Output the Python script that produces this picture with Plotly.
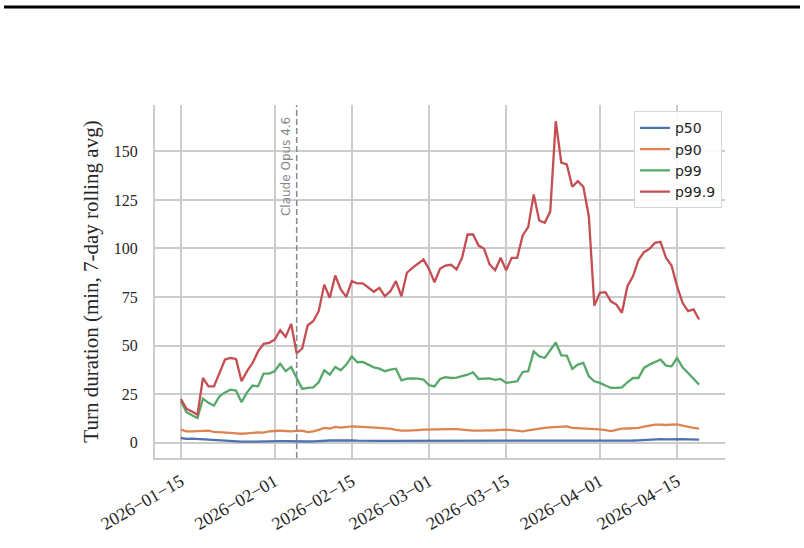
import pandas as pd
import plotly.graph_objects as go

start_date = "2026-01-15"
release_date = "2026-02-05"
release_label = "Claude Opus 4.6"

p50 = [2.4, 2.0, 2.1, 1.9, 1.7, 1.6, 1.4, 1.2, 1.1, 0.8, 0.5, 0.5, 0.5, 0.6, 0.6, 0.7, 0.7, 0.8, 0.8, 0.8,
       0.7, 0.7, 0.6, 0.6, 0.7, 0.9, 1.0, 1.1, 1.1, 1.2, 1.1, 1.1, 1.0, 0.9, 0.9, 0.9, 0.9, 0.9, 0.9, 0.8,
       0.8, 0.9, 0.9, 0.9, 0.9, 1.0, 1.0, 0.9, 0.9, 0.9, 0.8, 0.8, 0.8, 0.8, 0.8, 0.8, 0.8, 0.8, 0.9, 0.9,
       0.9, 0.9, 0.9, 0.9, 0.9, 0.9, 1.0, 1.0, 1.1, 1.1, 1.1, 1.1, 1.0, 1.0, 1.0, 1.0, 0.9, 0.9, 0.9, 0.9,
       1.0, 1.0, 1.1, 1.2, 1.4, 1.5, 1.7, 1.8, 1.7, 1.8, 1.9, 1.8, 1.7, 1.6, 1.6]

p90 = [6.7, 5.8, 5.8, 5.9, 6.0, 6.2, 5.6, 5.3, 5.3, 5.0, 4.8, 4.6, 4.8, 5.1, 5.3, 5.2, 5.8, 6.0, 6.2, 6.0,
       5.8, 6.1, 6.2, 5.4, 5.8, 6.6, 7.6, 7.3, 8.1, 7.8, 8.1, 8.4, 8.3, 8.2, 8.1, 7.9, 7.6, 7.4, 7.2, 6.6,
       6.2, 6.2, 6.2, 6.5, 6.7, 6.8, 7.0, 6.9, 7.2, 7.0, 7.0, 6.7, 6.4, 6.2, 6.2, 6.2, 6.2, 6.4, 6.6, 6.7,
       6.4, 6.0, 5.8, 6.3, 6.8, 7.2, 7.6, 7.9, 8.1, 8.3, 8.4, 7.6, 7.5, 7.4, 7.2, 7.0, 6.8, 6.4, 5.9, 6.6,
       7.2, 7.3, 7.5, 7.6, 8.2, 8.8, 9.3, 9.3, 9.1, 9.3, 9.4, 8.8, 8.1, 7.6, 7.2]

p99 = [21.3, 15.8, 14.1, 12.7, 22.7, 20.5, 19.1, 23.9, 25.9, 27.3, 26.8, 20.8, 25.9, 29.4, 29.0, 35.6, 35.6, 36.8, 40.7, 36.8,
       39.0, 33.0, 27.7, 28.2, 28.5, 31.1, 37.3, 35.0, 39.0, 37.3, 40.2, 44.5, 41.4, 41.6, 40.2, 38.8, 38.1, 36.8, 37.6, 38.1,
       32.1, 33.0, 33.1, 33.0, 32.5, 29.6, 29.0, 32.8, 33.7, 33.3, 33.5, 34.2, 35.0, 36.2, 32.8, 33.0, 33.1, 32.3, 32.8, 30.8,
       31.3, 31.6, 36.4, 36.8, 47.0, 44.5, 43.6, 47.9, 51.6, 45.0, 44.8, 38.0, 40.2, 41.1, 34.2, 31.6, 30.8, 29.4, 28.2, 28.2,
       28.5, 31.1, 33.3, 33.3, 38.5, 40.2, 41.6, 42.8, 39.7, 39.3, 43.6, 38.8, 35.9, 33.0, 29.9]

p999 = [22.5, 17.5, 16.0, 14.4, 33.3, 29.0, 29.0, 36.0, 42.8, 43.6, 43.1, 31.6, 36.8, 41.0, 47.0, 50.9, 51.4, 53.0, 57.9, 54.5,
        61.2, 46.0, 48.5, 60.5, 62.5, 67.7, 81.4, 74.6, 86.1, 78.9, 75.1, 83.2, 82.0, 82.0, 79.7, 77.7, 79.7, 75.4, 78.0, 83.2,
        75.4, 87.5, 90.0, 92.3, 94.3, 89.5, 82.6, 89.5, 91.2, 91.6, 89.2, 95.2, 107.2, 107.2, 101.5, 99.8, 91.8, 88.8, 95.2, 88.8,
        95.2, 95.2, 106.7, 111.0, 127.8, 114.4, 113.2, 119.0, 165.6, 144.2, 143.3, 131.8, 134.7, 131.8, 116.6, 70.6, 77.2, 77.5, 72.8, 71.1,
        66.9, 80.6, 85.7, 94.0, 98.1, 99.8, 102.9, 103.4, 95.2, 91.2, 80.6, 72.0, 67.7, 68.6, 63.4]

series_names = ["p50", "p90", "p99", "p99.9"]
series_values = [p50, p90, p99, p999]
series_colors = ["#4c72b0", "#dd8452", "#55a868", "#c44e52"]

tick_dates = ["2026-01-15", "2026-02-01", "2026-02-15", "2026-03-01", "2026-03-15", "2026-04-01", "2026-04-15"]
tick_text = [d.replace("-", "\u2212") for d in tick_dates]
y_ticks = [0, 25, 50, 75, 100, 125, 150]

dates = pd.date_range(start_date, periods=len(p50), freq="D")

fig = go.Figure()
for name, vals, col in zip(series_names, series_values, series_colors):
    fig.add_trace(go.Scatter(x=dates, y=vals, mode="lines", name=name,
                             line=dict(color=col, width=2.3)))

span = dates[-1] - dates[0]
pad = span * 0.05
x_range = [dates[0] - pad, dates[-1] + pad]

serif = "Liberation Serif, DejaVu Serif, serif"
grid = "#cccccc"

fig.update_layout(
    width=804, height=548,
    margin=dict(l=155, r=79, t=105, b=90),
    paper_bgcolor="white", plot_bgcolor="white",
    showlegend=True,
    legend=dict(x=0.9947, y=0.982, xanchor="right", yanchor="top",
                bgcolor="rgba(255,255,255,0.9)", bordercolor="#d6d6d6", borderwidth=1,
                font=dict(family="DejaVu Sans, sans-serif", size=14, color="#262626"),
                itemwidth=30, tracegroupgap=0),
    xaxis=dict(range=x_range, tickvals=list(pd.to_datetime(tick_dates)), ticktext=tick_text,
               tickangle=-30, tickfont=dict(family=serif, size=18, color="#262626"),
               showgrid=True, gridcolor=grid, gridwidth=1.5,
               showline=True, linecolor=grid, linewidth=2,
               ticks="outside", ticklen=4, tickcolor="rgba(0,0,0,0)",
               zeroline=False),
    yaxis=dict(range=[-7.9, 173.9], tickvals=y_ticks,
               tickfont=dict(family=serif, size=16, color="#262626"),
               showgrid=True, gridcolor=grid, gridwidth=1.5,
               showline=True, linecolor=grid, linewidth=2,
               ticks="outside", ticklen=12, tickcolor="rgba(0,0,0,0)",
               zeroline=False,
               title=dict(text="Turn duration (min, 7-day rolling avg)",
                          font=dict(family=serif, size=21, color="#262626"), standoff=9)),
)

fig.add_shape(type="line", xref="x", yref="paper", x0=release_date, x1=release_date, y0=0, y1=1,
              line=dict(color="#888888", width=1.5, dash="6px,3px"))
fig.add_annotation(x=release_date, y=0.972, xref="x", yref="paper", text=release_label,
                   textangle=-90, showarrow=False, xanchor="right", yanchor="top", xshift=-1,
                   font=dict(family="DejaVu Sans, sans-serif", size=12, color="#888888"))
# top rule
fig.add_shape(type="line", xref="paper", yref="paper", x0=-0.2649, x1=1.1316, y0=1.2776, y1=1.2776,
              line=dict(color="black", width=3))

fig.write_html("out.html")
